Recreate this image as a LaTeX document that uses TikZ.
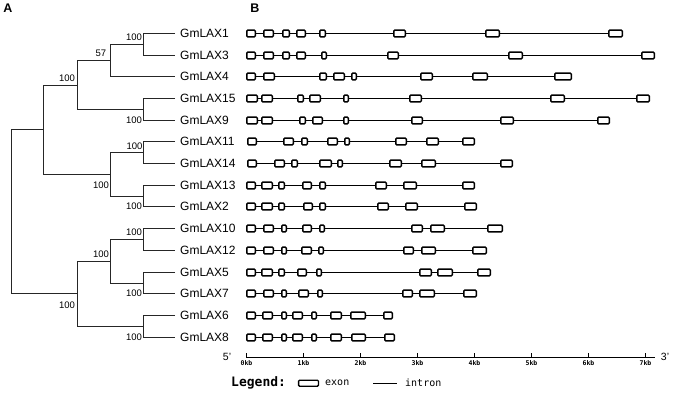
\documentclass[tikz,border=0pt]{standalone}
\usepackage{fontspec}
\setmainfont{Liberation Sans}
\newfontfamily\monofont{DejaVu Sans Mono}
\begin{document}
\begin{tikzpicture}[x=1pt,y=-1pt,
  tree/.style={line width=0.9pt, draw=black!85},
  leaf/.style={anchor=west, inner sep=0pt, font=\fontsize{12}{13}\selectfont},
  bs/.style={inner sep=0pt, font=\fontsize{9.5}{10}\selectfont},
  panel/.style={inner sep=0pt, font=\fontsize{12.5}{13}\selectfont\bfseries},
  exon/.style={draw=black, fill=white, line width=1.5pt, rounded corners=1pt},
  intron/.style={line width=1.4pt, draw=black},
  axisline/.style={line width=1.2pt},
  ticklab/.style={inner sep=0pt, anchor=north, font=\monofont\bfseries\fontsize{6.5}{7}\selectfont},
  endlab/.style={inner sep=0pt, font=\fontsize{10.5}{11}\selectfont},
  legtext/.style={inner sep=0pt, anchor=west, font=\monofont\fontsize{10}{11}\selectfont}
]
\useasboundingbox (0,0) rectangle (680,402);

% panel letters
\node[panel] (pA) at (8,8.5) {A};
\node[panel] (pB) at (255,8.5) {B};

% leaves
\foreach \k/\yy/\name in {1/33.5/GmLAX1,2/55.5/GmLAX3,3/76.5/GmLAX4,4/98.5/GmLAX15,5/120.5/GmLAX9,6/141.5/GmLAX11,7/163.5/GmLAX14,8/185.5/GmLAX13,9/206.5/GmLAX2,10/228.5/GmLAX10,11/250.5/GmLAX12,12/272.5/GmLAX5,13/293.5/GmLAX7,14/315.5/GmLAX6,15/337.5/GmLAX8}{
  \coordinate (l\k) at (175,\yy);
  \node[leaf] (t\k) at (180,\yy) {\name};
}

% internal nodes
\coordinate (n13)   at (143.5,44.5);
\coordinate (n57)   at (110.5,60.5);
\coordinate (n915)  at (143.5,109.5);
\coordinate (nA)    at (77.5,85);
\coordinate (n1114) at (143.5,152.5);
\coordinate (n132)  at (143.5,196);
\coordinate (nB)    at (110.5,174.25);
\coordinate (nAB)   at (43.5,129.6);
\coordinate (n1012) at (143.5,239.5);
\coordinate (n57b)  at (143.5,283);
\coordinate (nC)    at (110.5,261.25);
\coordinate (n68)   at (143.5,326.5);
\coordinate (nD)    at (77.5,293.9);
\coordinate (root)  at (11.5,211.75);

\draw[tree] (l1) -| (n13) |- (l2);
\draw[tree] (n13) -| (n57) |- (l3);
\draw[tree] (l4) -| (n915) |- (l5);
\draw[tree] (n57) -| (nA) |- (n915);
\draw[tree] (l6) -| (n1114) |- (l7);
\draw[tree] (l8) -| (n132) |- (l9);
\draw[tree] (n1114) -| (nB) |- (n132);
\draw[tree] (nA) -| (nAB) |- (nB);
\draw[tree] (l10) -| (n1012) |- (l11);
\draw[tree] (l12) -| (n57b) |- (l13);
\draw[tree] (n1012) -| (nC) |- (n57b);
\draw[tree] (l14) -| (n68) |- (l15);
\draw[tree] (nC) -| (nD) |- (n68);
\draw[tree] (nAB) -| (root) |- (nD);

% bootstrap values
\node[bs] (b1)  at (134,37)    {100};
\node[bs] (b2)  at (101,53)    {57};
\node[bs] (b3)  at (67,78)     {100};
\node[bs] (b4)  at (134,120)   {100};
\node[bs] (b5)  at (134.5,146) {100};
\node[bs] (b6)  at (101,185.5) {100};
\node[bs] (b7)  at (134,206.5) {100};
\node[bs] (b8)  at (134,232)   {100};
\node[bs] (b9)  at (101,254)   {100};
\node[bs] (b10) at (134,293.5) {100};
\node[bs] (b11) at (67,305.5)  {100};
\node[bs] (b12) at (134,337)   {100};

% gene structures
\foreach \yy/\e/\lst in {
 33.5/623/{246/256,263/274,282/290,296/306,319/326,393/406,485/500,608/623},
 55.5/655/{246/256,263/274,282/290,296/306,321/327,387/399,508/523,641/655},
 76.5/572/{246/256,263/275,319/327,333/345,351/357,420/433,472/488,554/572},
 98.5/650/{246/258,261/273,297/304,309/321,343/349,409/422,550/565,636/650},
 120.5/610/{246/258,261/273,299/306,312/323,343/349,411/423,500/514,597/610},
 141.5/475/{247/257,283/294,301/308,327/338,344/350,395/407,426/439,462/475},
 163.5/513/{247/257,274/285,291/298,319/332,337/343,389/402,421/436,500/513},
 185.5/475/{246/256,261/273,278/285,302/312,319/326,375/387,403/417,462/475},
 206.5/477/{246/256,261/273,278/285,303/313,319/326,377/389,405/418,464/477},
 228.5/503/{246/256,263/274,281/287,302/312,319/325,411/423,430/445,487/503},
 250.5/487/{246/256,263/274,281/287,301/312,318/324,403/414,421/436,472/487},
 272.5/491/{246/256,261/273,278/285,297/307,316/322,419/432,437/453,477/491},
 293.5/477/{246/256,263/274,281/287,298/309,317/323,402/413,419/435,463/477},
 315.5/393/{246/256,262/273,281/287,292/303,311/317,330/342,350/366,383/393},
 337.5/395/{246/256,262/273,281/287,292/303,311/317,330/342,351/366,384/395}}{
  \draw[intron] (247,\yy) -- (\e-1,\yy);
  \foreach \a/\b in \lst {
    \draw[exon] (\a+0.75,\yy-3.4) rectangle (\b-0.75,\yy+3.4);
  }
}

% axis
\coordinate (ax0) at (246,357.5);
\coordinate (ax1) at (655,357.5);
\draw[axisline] (ax0) -- (ax1);
\foreach \i in {0,...,7}{
  \draw[line width=0.9pt] (246.5+57*\i,357.5) -- (246.5+57*\i,352.5);
  \node[ticklab] (k\i) at (246.5+57*\i,360.5) {\i kb};
}
\node[endlab] (five) at (227,357) {5’};
\node[endlab] (three) at (665,357) {3’};

% legend
\node[inner sep=0pt, anchor=west, font=\monofont\bfseries\fontsize{13}{14}\selectfont] (leg) at (231,383) {Legend:};
\draw[exon, line width=1.3pt, rounded corners=1pt] (298.6,380.2) rectangle (318.4,386.2);
\node[legtext] (lexon) at (325,382.5) {exon};
\coordinate (ia) at (373,383.5);
\coordinate (ib) at (397,383.5);
\draw[intron, line width=1.3pt] (ia) -- (ib);
\node[legtext] (lintron) at (405,382.5) {intron};
\end{tikzpicture}
\end{document}
